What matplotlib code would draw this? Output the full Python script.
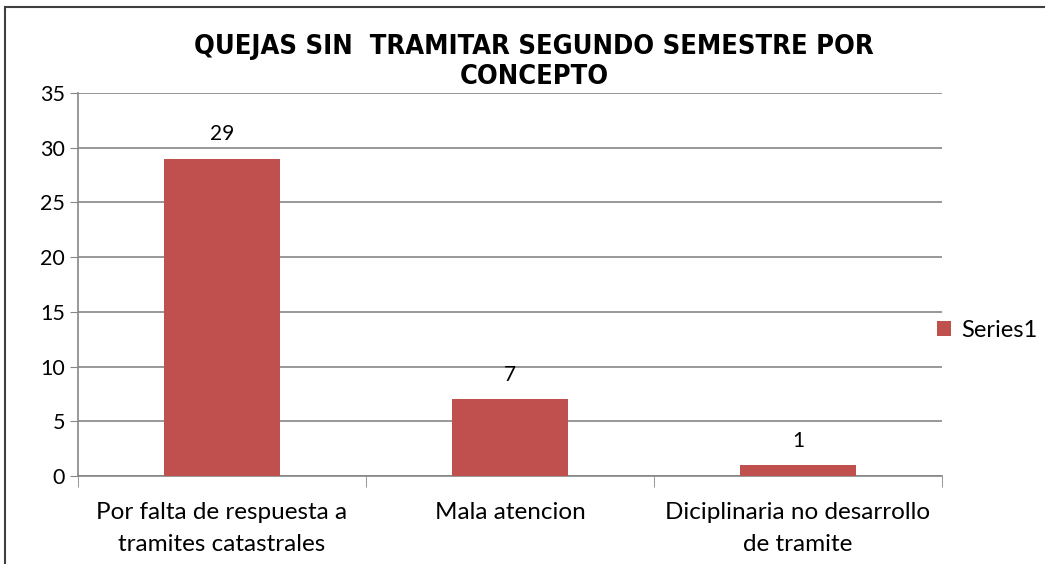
import matplotlib.pyplot as plt
from matplotlib.patches import Rectangle

categories = ["Por falta de respuesta a\ntramites catastrales",
              "Mala atencion",
              "Diciplinaria no desarrollo\nde tramite"]
values = [29, 7, 1]
series_name = "Series1"
title = "QUEJAS SIN  TRAMITAR SEGUNDO SEMESTRE POR\nCONCEPTO"

bar_color = "#C0504D"
grid_color = "#868686"
font = ["Lato", "DejaVu Sans"]

fig = plt.figure(figsize=(10.45, 5.64), dpi=100)
ax = fig.add_axes([78 / 1045, 88 / 564, 864 / 1045, 383 / 564])

# outer chart border (left/top, cut off at right and bottom)
fig.patches.append(Rectangle((5 / 1045, -0.1), 1.2, 0.1 + 557 / 564,
                             transform=fig.transFigure, fill=False,
                             edgecolor="#404040", linewidth=1.5))

x = range(len(categories))
bars = ax.bar(x, values, width=0.4, color=bar_color, label=series_name, zorder=3)
for b, v in zip(bars, values):
    ax.text(b.get_x() + b.get_width() / 2, v + 1.3, str(v), ha="center", va="bottom",
            fontsize=15, family=font)

ax.set_xlim(-0.5, len(categories) - 0.5)
ax.set_ylim(0, 35)
ax.set_yticks(range(0, 36, 5))
ax.yaxis.grid(True, color=grid_color, linewidth=1.2, zorder=0)
ax.set_xticks([-0.5, 0.5, 1.5, 2.5], minor=True)
ax.set_xticks(list(x))
ax.set_xticklabels(categories, fontsize=17.5, family=font, linespacing=1.6)
ax.tick_params(axis="x", which="major", length=0, pad=19)
ax.tick_params(axis="x", which="minor", length=8, color=grid_color)
ax.tick_params(axis="y", length=6, color=grid_color, labelsize=15.5)
for lbl in ax.get_yticklabels():
    lbl.set_family(font)

for s in ["top", "right"]:
    ax.spines[s].set_visible(False)
ax.spines["left"].set_color(grid_color)
ax.spines["bottom"].set_color(grid_color)
ax.spines["left"].set_linewidth(1.2)
ax.spines["bottom"].set_linewidth(1.2)

fig.text(534 / 1045, 1 - 62 / 564, title, ha="center", va="center",
         fontsize=19.5, fontweight="bold", family=["DejaVu Sans"],
         fontstretch="condensed", linespacing=1.2)

leg = ax.legend(loc="center left", bbox_to_anchor=(0.97, 0.38), frameon=False,
                prop={"family": font, "size": 17}, handlelength=0.6,
                handleheight=0.6, handletextpad=0.4)

fig.savefig("out.png", dpi=100, facecolor="white")
